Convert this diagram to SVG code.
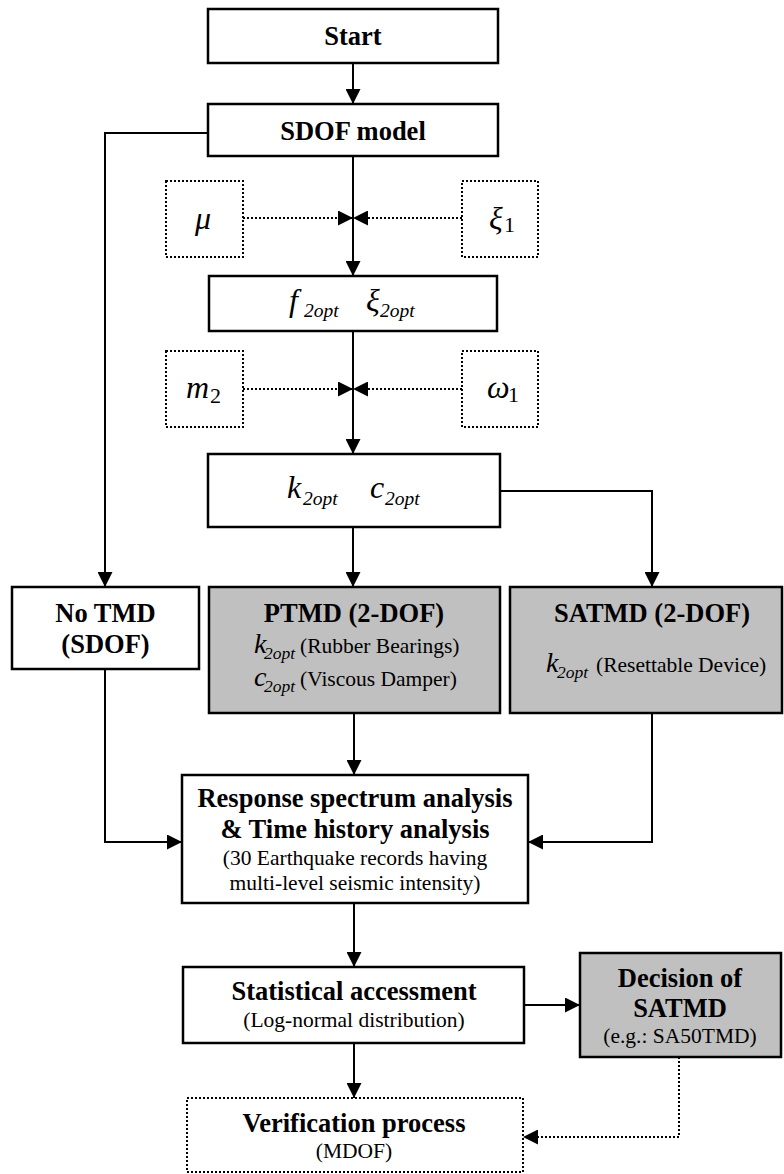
<svg xmlns="http://www.w3.org/2000/svg" width="784" height="1174" viewBox="0 0 784 1174">
<style>
.box{fill:#fff;stroke:#000;stroke-width:2.5}
.grey{fill:#c0c0c0;stroke:#000;stroke-width:2.5}
.dbox{fill:#fff;stroke:#000;stroke-width:2;stroke-dasharray:2 2}
.ln{fill:none;stroke:#000;stroke-width:2}
.dl{fill:none;stroke:#000;stroke-width:2;stroke-dasharray:2 2}
.b{font-family:"Liberation Serif",serif;font-weight:bold;font-size:26.5px;text-anchor:middle}
.r{font-family:"Liberation Serif",serif;font-size:21.5px;text-anchor:middle}
.m{font-family:"Liberation Serif",serif;font-style:italic;font-size:32px}
.s{font-size:19.5px}
.u{font-style:normal;font-size:22px}
.pm{font-family:"Liberation Serif",serif;font-style:italic;font-size:28px}
.ps{font-size:17.5px}
.pr{font-family:"Liberation Serif",serif;font-size:21.5px}
</style>
<defs>
<marker id="ah" markerWidth="15" markerHeight="15" refX="15" refY="7.5" orient="auto" markerUnits="userSpaceOnUse">
<path d="M0,0 L15,7.5 L0,15 Z" fill="#000"/>
</marker>
</defs>

<g id="connectors">
<line class="ln" x1="353" y1="63" x2="353" y2="104" marker-end="url(#ah)"/>
<line class="ln" x1="353" y1="156" x2="353" y2="276" marker-end="url(#ah)"/>
<line class="dl" x1="243" y1="218" x2="353" y2="218" marker-end="url(#ah)"/>
<line class="dl" x1="462" y1="218" x2="353" y2="218" marker-end="url(#ah)"/>
<line class="ln" x1="353" y1="331" x2="353" y2="454" marker-end="url(#ah)"/>
<line class="dl" x1="243" y1="389" x2="353" y2="389" marker-end="url(#ah)"/>
<line class="dl" x1="462" y1="389" x2="353" y2="389" marker-end="url(#ah)"/>
<polyline class="ln" points="208,133 105,133 105,587" marker-end="url(#ah)"/>
<line class="ln" x1="353" y1="527" x2="353" y2="587" marker-end="url(#ah)"/>
<polyline class="ln" points="500,491 652,491 652,587" marker-end="url(#ah)"/>
<polyline class="ln" points="105,669 105,842 182,842" marker-end="url(#ah)"/>
<line class="ln" x1="354" y1="713" x2="354" y2="775" marker-end="url(#ah)"/>
<polyline class="ln" points="652,713 652,842 528,842" marker-end="url(#ah)"/>
<line class="ln" x1="354" y1="903" x2="354" y2="967" marker-end="url(#ah)"/>
<line class="ln" x1="524" y1="1005" x2="580" y2="1005" marker-end="url(#ah)"/>
<line class="ln" x1="354" y1="1043" x2="354" y2="1098" marker-end="url(#ah)"/>
<polyline class="dl" points="679,1057 679,1137 523,1137" marker-end="url(#ah)"/>
</g>

<g id="start">
<rect class="box" x="208" y="9" width="290" height="54"/>
<text class="b" x="353" y="45">Start</text>
</g>

<g id="sdof">
<rect class="box" x="208" y="104" width="290" height="52"/>
<text class="b" x="353" y="140">SDOF model</text>
</g>

<g id="mu">
<rect class="dbox" x="166" y="181" width="77" height="76"/>
<text class="m" x="203" y="229" text-anchor="middle">μ</text>
</g>

<g id="xi1">
<rect class="dbox" x="462" y="181" width="76" height="76"/>
<text class="m" x="489" y="229">ξ<tspan class="u" x="504" dy="3">1</tspan></text>
</g>

<g id="fopt">
<rect class="box" x="209" y="276" width="288" height="55"/>
<text class="m" x="289" y="311">f<tspan class="s" x="304" dy="6">2opt</tspan><tspan x="366" dy="-6">ξ</tspan><tspan class="s" x="380" dy="6">2opt</tspan></text>
</g>

<g id="m2">
<rect class="dbox" x="166" y="351" width="77" height="76"/>
<text class="m" x="186" y="398">m<tspan class="u" x="210" dy="5">2</tspan></text>
</g>

<g id="omega1">
<rect class="dbox" x="462" y="351" width="76" height="76"/>
<text class="m" x="487" y="398">ω<tspan class="u" x="508" dy="4">1</tspan></text>
</g>

<g id="kopt">
<rect class="box" x="208" y="454" width="292" height="73"/>
<text class="m" x="287" y="498">k<tspan class="s" x="303" dy="7">2opt</tspan><tspan x="370" dy="-7">c</tspan><tspan class="s" x="385" dy="7">2opt</tspan></text>
</g>

<g id="notmd">
<rect class="box" x="12" y="587" width="187" height="82"/>
<text class="b" x="105.5" y="622">No TMD</text>
<text class="b" x="105.5" y="653">(SDOF)</text>
</g>

<g id="ptmd">
<rect class="grey" x="209" y="587" width="291" height="126"/>
<text class="b" x="354" y="622">PTMD (2-DOF)</text>
<text x="254" y="653"><tspan class="pm">k</tspan><tspan class="pm ps" x="264" dy="6">2opt</tspan><tspan class="pr" x="300" dy="-6">(Rubber Bearings)</tspan></text>
<text x="254" y="686"><tspan class="pm">c</tspan><tspan class="pm ps" x="264" dy="6">2opt</tspan><tspan class="pr" x="300" dy="-6">(Viscous Damper)</tspan></text>
</g>

<g id="satmd">
<rect class="grey" x="510" y="587" width="272" height="126"/>
<text class="b" x="652" y="622">SATMD (2-DOF)</text>
<text x="546" y="672"><tspan class="pm">k</tspan><tspan class="pm ps" x="557" dy="6">2opt</tspan><tspan class="pr" x="596" dy="-6">(Resettable Device)</tspan></text>
</g>

<g id="response">
<rect class="box" x="182" y="775" width="346" height="128"/>
<text class="b" x="355" y="807">Response spectrum analysis</text>
<text class="b" x="355" y="838">&amp; Time history analysis</text>
<text class="r" x="355" y="865">(30 Earthquake records having</text>
<text class="r" x="355" y="890">multi-level seismic intensity)</text>
</g>

<g id="statistical">
<rect class="box" x="183" y="967" width="341" height="76"/>
<text class="b" x="354" y="1000">Statistical accessment</text>
<text class="r" x="354" y="1027">(Log-normal distribution)</text>
</g>

<g id="decision">
<rect class="grey" x="580" y="953" width="201" height="104"/>
<text class="b" x="680" y="987">Decision of</text>
<text class="b" x="680" y="1017">SATMD</text>
<text class="r" x="680" y="1043">(e.g.: SA50TMD)</text>
</g>

<g id="verification">
<rect class="dbox" x="187" y="1098" width="336" height="74"/>
<text class="b" x="354" y="1132">Verification process</text>
<text class="r" x="354" y="1158">(MDOF)</text>
</g>
</svg>
